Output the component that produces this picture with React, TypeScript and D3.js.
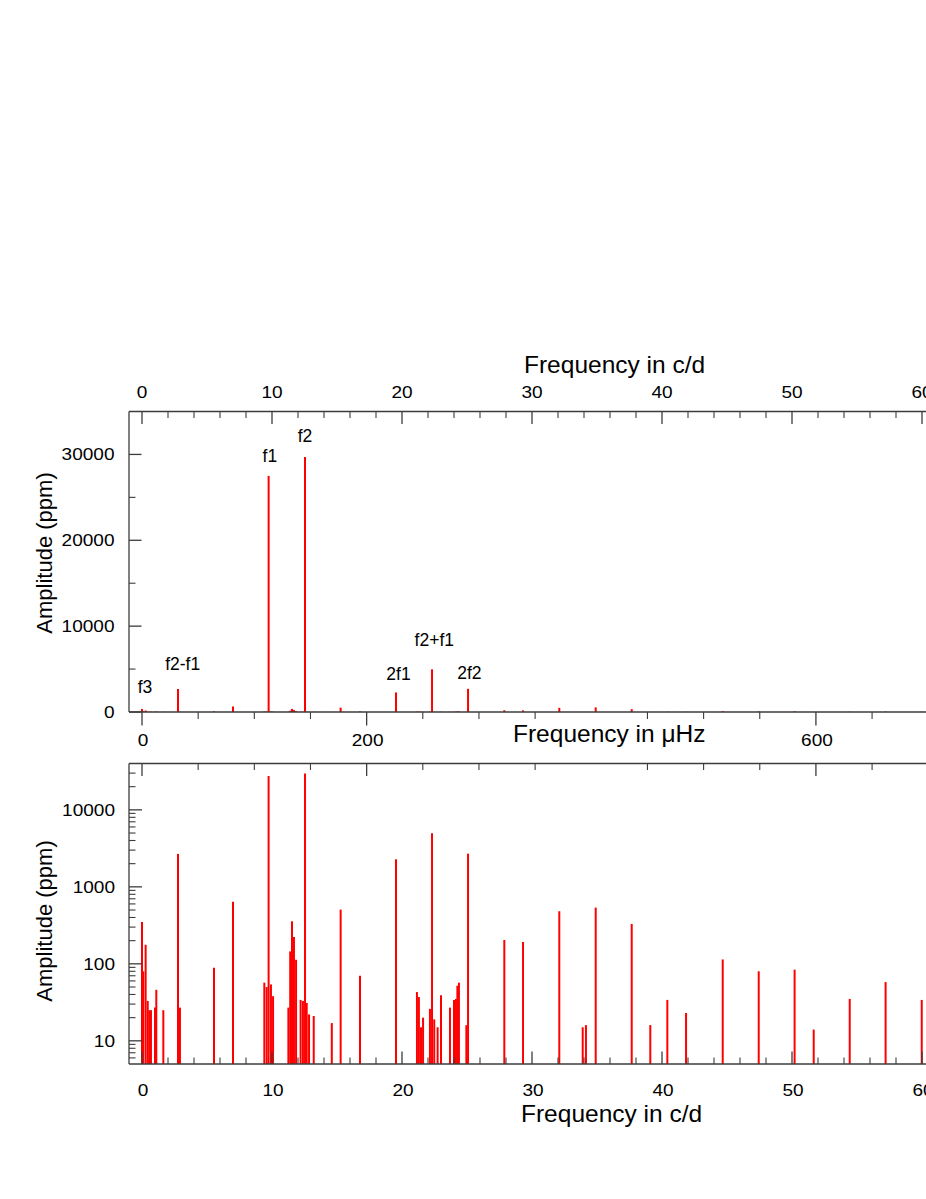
import React from 'react';
import * as d3 from 'd3';

// ---- data (frequencies in c/d, amplitudes in ppm) ----
const freqCd = [
  0.0, 0.1, 0.28, 0.44, 0.56, 0.69, 1.0, 1.1, 1.64, 2.77, 2.92, 5.54, 7.0,
  9.41, 9.59, 9.74, 9.92, 10.08, 11.26, 11.4, 11.54, 11.69, 11.85, 12.2, 12.38,
  12.54, 12.67, 12.85, 13.21, 14.6, 15.28, 16.77, 19.54, 21.15, 21.3, 21.46,
  21.62, 22.15, 22.31, 22.48, 22.74, 23.0, 23.69, 24.0, 24.15, 24.26, 24.38,
  24.95, 25.08, 27.87, 29.31, 32.1, 33.9, 34.15, 34.9, 37.67, 39.1, 40.41,
  41.85, 44.67, 47.44, 50.2, 51.67, 54.44, 57.2, 59.98,
];
const ampPpm = [
  350, 80, 177, 33, 25, 25, 27, 46, 25, 2680, 27, 89, 640,
  57, 50, 27500, 54, 38, 27, 145, 357, 223, 113, 34, 33,
  29700, 31, 22, 21, 17, 507, 70, 2280, 43, 37, 15,
  20, 26, 4970, 19, 15, 39, 27, 34, 35, 52, 57,
  16, 2700, 204, 192, 482, 15, 16, 538, 330, 16, 34,
  23, 114, 80, 84, 14, 35, 58, 34,
];
const peakLabels = ['f3', 'f2-f1', 'f1', 'f2', '2f1', 'f2+f1', '2f2'];
const peakLabelFreqs = [0.0, 2.77, 9.74, 12.54, 19.54, 22.31, 25.08];

const linMajorTicks = [0, 10000, 20000, 30000];
const linMinorTicks = [5000, 15000, 25000];
const logMajorTicks = [10, 100, 1000, 10000];
const logMinorTicks = [6, 7, 8, 9, 20, 30, 40, 50, 60, 70, 80, 90, 200, 300, 400, 500, 600, 700, 800, 900,
  2000, 3000, 4000, 5000, 6000, 7000, 8000, 9000, 20000, 30000];
const cdMajorTicks = [0, 10, 20, 30, 40, 50, 60, 70];
const cdMinorTicks = [2, 4, 6, 8, 12, 14, 16, 18, 22, 24, 26, 28, 32, 34, 36, 38, 42, 44, 46, 48, 52, 54, 56, 58, 62, 64, 66, 68];
const uHzMajorTicks = [0, 200, 600];
const uHzMinorTicks = [50, 100, 150, 250, 300, 350, 450, 500, 550, 650, 700, 750, 800];
const CD_TO_UHZ = 1e6 / 86400;

// ---- layout ----
const W = 926;
const H = 1199;
const LEFT = 129;
const RIGHT = 1100;
const TOP1 = 411.5;
const BOT1 = 712;
const TOP2 = 763.5;
const BOT2 = 1064;

const FONT = 'Liberation Sans, Arial, Helvetica, sans-serif';
const AXIS = '#3c3c3c';
const RED = '#ff0000';

// label offsets (pixels relative to the peak top)
const labelOffsets: Record<string, [number, number]> = {
  'f3': [3, -16], 'f2-f1': [4.7, -19], 'f1': [1.3, -14], 'f2': [0, -15],
  '2f1': [2.5, -12.7], 'f2+f1': [2.3, -23], '2f2': [1.3, -9.7],
};

const xCd = d3.scaleLinear().domain([0, 60]).range([142, 922]);
const xUHz = d3.scaleLinear().domain([0, 60 * CD_TO_UHZ]).range([142, 922]);
const yLin = d3.scaleLinear().domain([0, 35000]).range([BOT1, TOP1]);
const yLog = d3.scaleLog().domain([5, 40000]).range([BOT2, TOP2]);

const TickLabel = ({ x, y, text, anchor = 'middle', size = 17 }: any) => (
  <text transform={`translate(${x},${y}) scale(1.12,1)`} textAnchor={anchor}
    fontFamily={FONT} fontSize={size} fill="#000">{text}</text>
);

export default function App() {
  const data = freqCd.map((f, i) => ({ f, a: ampPpm[i] }));
  const MAJ = 12.5;
  const MIN = 6.5;
  return (
    <svg width={W} height={H} viewBox={`0 0 ${W} ${H}`}
      style={{ position: 'absolute', left: 0, top: 0, background: '#fff' }}>
      <rect x={0} y={0} width={W} height={H} fill="#fff" />

      {/* ================= top panel (linear) ================= */}
      {data.map((d, i) => (
        <line key={'b1' + i} x1={xCd(d.f)} x2={xCd(d.f)} y1={yLin(0)} y2={yLin(d.a)}
          stroke={RED} strokeWidth={2} />
      ))}
      {/* frame */}
      <line x1={LEFT} x2={RIGHT} y1={TOP1} y2={TOP1} stroke={AXIS} strokeWidth={1.3} />
      <line x1={LEFT} x2={RIGHT} y1={BOT1} y2={BOT1} stroke={AXIS} strokeWidth={1.3} />
      <line x1={LEFT} x2={LEFT} y1={TOP1} y2={BOT1} stroke={AXIS} strokeWidth={1.3} />
      {/* top axis c/d, inward ticks */}
      {cdMajorTicks.map((t) => (
        <g key={'tc' + t}>
          <line x1={xCd(t)} x2={xCd(t)} y1={TOP1} y2={TOP1 + MAJ} stroke={AXIS} strokeWidth={1.3} />
          <TickLabel x={xCd(t)} y={397.5} text={String(t)} />
        </g>
      ))}
      {cdMinorTicks.map((t) => (
        <line key={'tcm' + t} x1={xCd(t)} x2={xCd(t)} y1={TOP1} y2={TOP1 + MIN} stroke={AXIS} strokeWidth={1.1} />
      ))}
      <text x={524} y={372.5} fontFamily={FONT} fontSize={24.5} fill="#000">Frequency in c/d</text>
      {/* bottom axis muHz, outward ticks */}
      {uHzMajorTicks.map((t) => (
        <g key={'bu' + t}>
          <line x1={xUHz(t)} x2={xUHz(t)} y1={BOT1} y2={BOT1 + MAJ + 1} stroke={AXIS} strokeWidth={1.3} />
          <TickLabel x={xUHz(t) + 1} y={746} text={String(t)} />
        </g>
      ))}
      {uHzMinorTicks.map((t) => (
        <line key={'bum' + t} x1={xUHz(t)} x2={xUHz(t)} y1={BOT1} y2={BOT1 + MIN + 0.5} stroke={AXIS} strokeWidth={1.1} />
      ))}
      <text x={513} y={742} fontFamily={FONT} fontSize={24.5} fill="#000">Frequency in μHz</text>
      {/* left axis */}
      {linMajorTicks.map((t) => (
        <g key={'ly' + t}>
          <line x1={LEFT} x2={LEFT + MAJ} y1={yLin(t)} y2={yLin(t)} stroke={AXIS} strokeWidth={1.3} />
          <TickLabel x={114.5} y={yLin(t) + 6} text={String(t)} anchor="end" />
        </g>
      ))}
      {linMinorTicks.map((t) => (
        <line key={'lym' + t} x1={LEFT} x2={LEFT + MIN} y1={yLin(t)} y2={yLin(t)} stroke={AXIS} strokeWidth={1.1} />
      ))}
      <text transform={`translate(52,553) rotate(-90)`} textAnchor="middle" fontFamily={FONT}
        fontSize={22} fill="#000">Amplitude (ppm)</text>
      {/* peak annotations */}
      {peakLabels.map((lab, i) => {
        const f = peakLabelFreqs[i];
        const pk = data.find((d) => d.f === f)!;
        const [dx, dy] = labelOffsets[lab];
        return (
          <text key={'pl' + lab} x={xCd(f) + dx} y={yLin(pk.a) + dy} textAnchor="middle"
            fontFamily={FONT} fontSize={17.5} fill="#000">{lab}</text>
        );
      })}

      {/* ================= bottom panel (log) ================= */}
      {data.filter((d) => d.a > 5).map((d, i) => (
        <line key={'b2' + i} x1={xCd(d.f)} x2={xCd(d.f)} y1={yLog(5)} y2={yLog(d.a)}
          stroke={RED} strokeWidth={2} />
      ))}
      <line x1={LEFT} x2={RIGHT} y1={TOP2} y2={TOP2} stroke={AXIS} strokeWidth={1.3} />
      <line x1={LEFT} x2={RIGHT} y1={BOT2} y2={BOT2} stroke={AXIS} strokeWidth={1.3} />
      <line x1={LEFT} x2={LEFT} y1={TOP2} y2={BOT2} stroke={AXIS} strokeWidth={1.3} />
      {/* top axis muHz, inward */}
      {uHzMajorTicks.map((t) => (
        <line key={'tu2' + t} x1={xUHz(t)} x2={xUHz(t)} y1={TOP2} y2={TOP2 + MAJ} stroke={AXIS} strokeWidth={1.3} />
      ))}
      {uHzMinorTicks.map((t) => (
        <line key={'tum2' + t} x1={xUHz(t)} x2={xUHz(t)} y1={TOP2} y2={TOP2 + MIN} stroke={AXIS} strokeWidth={1.1} />
      ))}
      {/* bottom axis c/d, inward */}
      {cdMajorTicks.map((t) => (
        <g key={'bc2' + t}>
          <line x1={xCd(t)} x2={xCd(t)} y1={BOT2} y2={BOT2 - MAJ} stroke={AXIS} strokeWidth={1.3} />
          <TickLabel x={xCd(t) + 1} y={1095.5} text={String(t)} />
        </g>
      ))}
      {cdMinorTicks.map((t) => (
        <line key={'bcm2' + t} x1={xCd(t)} x2={xCd(t)} y1={BOT2} y2={BOT2 - MIN} stroke={AXIS} strokeWidth={1.1} />
      ))}
      <text x={521} y={1121.5} fontFamily={FONT} fontSize={24.5} fill="#000">Frequency in c/d</text>
      {/* left log axis */}
      {logMajorTicks.map((t) => (
        <g key={'ll' + t}>
          <line x1={LEFT} x2={LEFT + MAJ + 0.5} y1={yLog(t)} y2={yLog(t)} stroke={AXIS} strokeWidth={1.3} />
          <TickLabel x={115} y={yLog(t) + 6} text={String(t)} anchor="end" />
        </g>
      ))}
      {logMinorTicks.map((t) => (
        <line key={'llm' + t} x1={LEFT} x2={LEFT + MIN} y1={yLog(t)} y2={yLog(t)} stroke={AXIS} strokeWidth={1.1} />
      ))}
      <text transform={`translate(52,921) rotate(-90)`} textAnchor="middle" fontFamily={FONT}
        fontSize={22} fill="#000">Amplitude (ppm)</text>
    </svg>
  );
}
